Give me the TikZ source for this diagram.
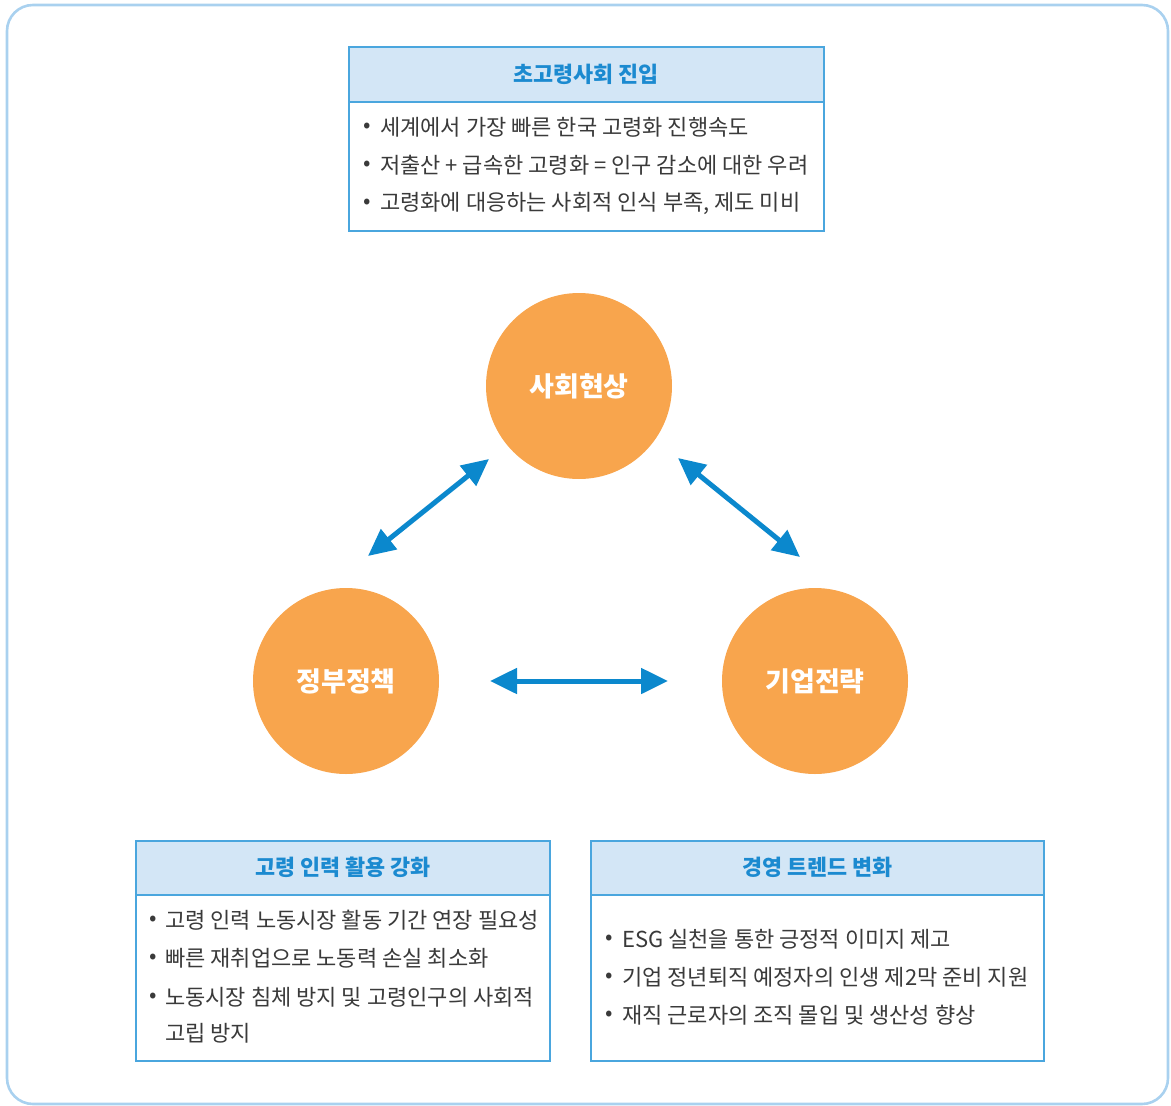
\documentclass[tikz,border=0pt]{standalone}
\usepackage{fontspec}
\setmainfont{Noto Sans CJK KR}
\usetikzlibrary{arrows.meta}
\definecolor{frameblue}{HTML}{A9D1EF}
\definecolor{boxblue}{HTML}{4AA6DE}
\definecolor{headfill}{HTML}{D3E6F6}
\definecolor{titleblue}{HTML}{1B8AD0}
\definecolor{circorange}{HTML}{F8A54D}
\definecolor{arrowblue}{HTML}{0B88CD}
\definecolor{bodytxt}{HTML}{3A3A3A}
\tikzset{
  headbox/.style={draw=boxblue, line width=1.5pt, fill=headfill, anchor=north west, inner sep=0pt,
    text=titleblue, font=\fontsize{21.8}{24}\selectfont\bfseries},
  bodybox/.style={draw=boxblue, line width=1.5pt, fill=white, anchor=north west, inner sep=0pt},
  circ/.style={circle, fill=circorange, minimum size=186pt, inner sep=0pt, text=white,
    font=\fontsize{27}{30}\selectfont\bfseries},
  arr/.style={arrowblue, line width=5pt, {Triangle[length=27pt,width=25pt]}-{Triangle[length=27pt,width=25pt]}},
  line/.style={anchor=west, inner sep=0pt, text=bodytxt, font=\fontsize{22}{24}\selectfont},
  bul/.style={anchor=center, inner sep=0pt, text=bodytxt, font=\fontsize{22}{24}\selectfont},
}
\begin{document}
\begin{tikzpicture}[x=1pt,y=-1pt]
\useasboundingbox (0,0) rectangle (1171,1106);
\draw[frameblue, line width=2.6pt, rounded corners=26pt] (7,5) rectangle (1168,1104);

% top box
\node[headbox, minimum width=475pt, minimum height=55pt] (tophead) at (348,46) {초고령사회 진입};
\node[bodybox, minimum width=475pt, minimum height=129pt] (topbody) at (348,101) {};
\node[bul] (tb1) at (367,128) {•};
\node[line] (tl1) at (380,127) {세계에서 가장 빠른 한국 고령화 진행속도};
\node[bul] (tb2) at (367,166) {•};
\node[line] (tl2) at (380,165) {저출산 + 급속한 고령화 = 인구 감소에 대한 우려};
\node[bul] (tb3) at (367,204) {•};
\node[line] (tl3) at (380,203) {고령화에 대응하는 사회적 인식 부족, 제도 미비};

% circles
\node[circ] (soc) at (579,386) {사회현상};
\node[circ] (gov) at (346,681) {정부정책};
\node[circ] (biz) at (815,681) {기업전략};

% arrows
\coordinate (a1s) at (489,459);
\coordinate (a1g) at (368,556);
\coordinate (a2s) at (678,458);
\coordinate (a2b) at (800,557);
\coordinate (a3g) at (490,681);
\coordinate (a3b) at (668,681);
\draw[arr] (a1g) -- (a1s);
\draw[arr] (a2s) -- (a2b);
\draw[arr] (a3g) -- (a3b);

% bottom left box
\node[headbox, minimum width=414pt, minimum height=54pt] (lhead) at (135,840) {고령 인력 활용 강화};
\node[bodybox, minimum width=414pt, minimum height=166pt] (lbody) at (135,894) {};
\node[bul] (lb1) at (153,921) {•};
\node[line] (ll1) at (165,920) {고령 인력 노동시장 활동 기간 연장 필요성};
\node[bul] (lb2) at (153,959) {•};
\node[line] (ll2) at (165,958) {빠른 재취업으로 노동력 손실 최소화};
\node[bul] (lb3) at (153,998) {•};
\node[line] (ll3) at (165,997) {노동시장 침체 방지 및 고령인구의 사회적};
\node[line] (ll4) at (165,1033) {고립 방지};

% bottom right box
\node[headbox, minimum width=453pt, minimum height=54pt] (rhead) at (590,840) {경영 트렌드 변화};
\node[bodybox, minimum width=453pt, minimum height=166pt] (rbody) at (590,894) {};
\node[bul] (rb1) at (609,940) {•};
\node[line] (rl1) at (622,939) {ESG 실천을 통한 긍정적 이미지 제고};
\node[bul] (rb2) at (609,978) {•};
\node[line] (rl2) at (622,977) {기업 정년퇴직 예정자의 인생 제2막 준비 지원};
\node[bul] (rb3) at (609,1016) {•};
\node[line] (rl3) at (622,1015) {재직 근로자의 조직 몰입 및 생산성 향상};
\end{tikzpicture}
\end{document}
